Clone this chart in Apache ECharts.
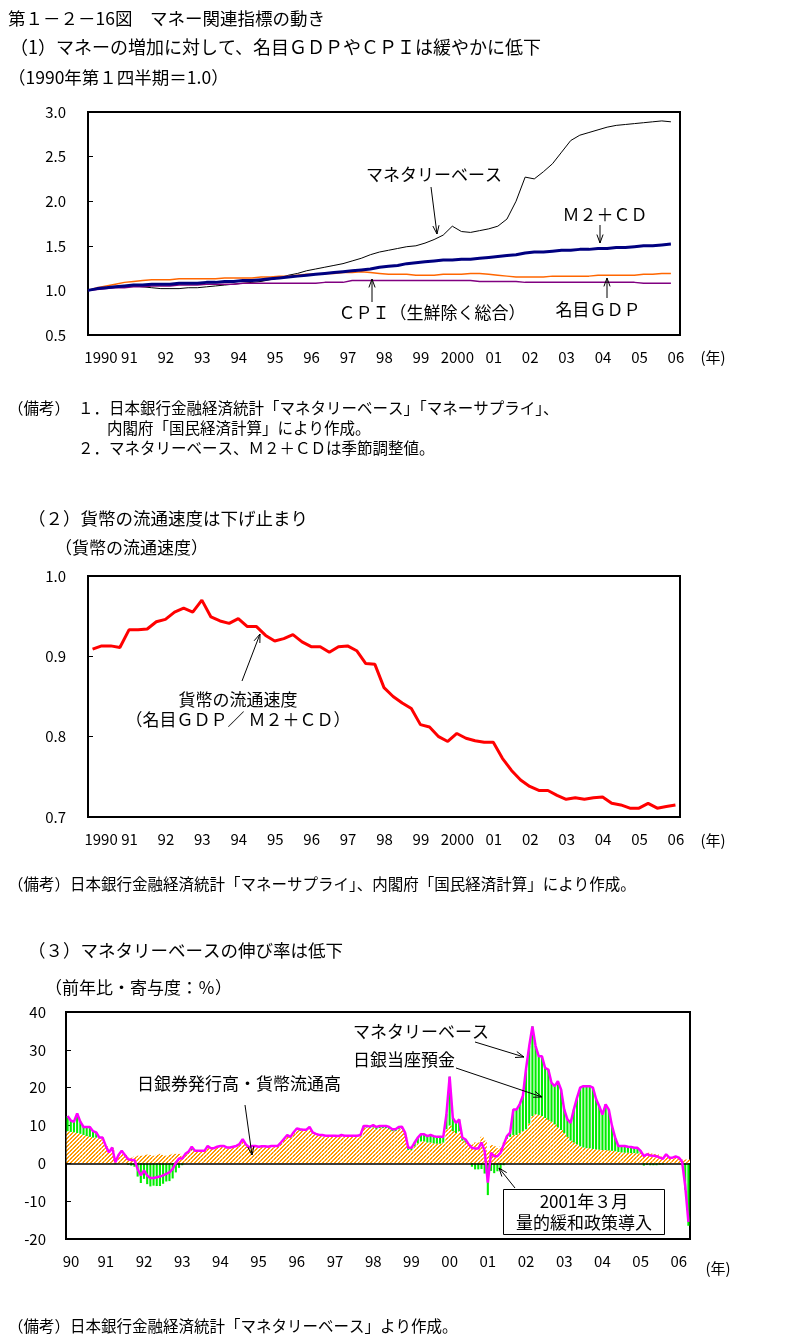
<!DOCTYPE html>
<html><head><meta charset="utf-8">
<script src="https://cdn.jsdelivr.net/npm/echarts/dist/echarts.min.js"></script>
<style>html,body{margin:0;padding:0;background:#fff}#c{width:794px;height:1340px}</style>
</head><body><div id="c"></div>
<script>
// ---------- tick labels ----------
const yearLabels12 = ['1990','91','92','93','94','95','96','97','98','99','2000','01','02','03','04','05','06'];
const yearLabels3 = ['90','91','92','93','94','95','96','97','98','99','00','01','02','03','04','05','06'];

// ---------- panel 1 (quarterly, 1990Q1 = 1.0) ----------
const monetaryBase = [1.00,1.02,1.03,1.04, 1.05,1.05,1.04,1.03, 1.02,1.02,1.02,1.03, 1.03,1.04,1.05,1.06,
  1.07,1.08,1.09,1.10, 1.12,1.14,1.17,1.19, 1.22,1.24,1.26,1.28, 1.30,1.33,1.36,1.40,
  1.43,1.45,1.47,1.49, 1.50,1.53,1.57,1.62, 1.72,1.66,1.65,1.67, 1.69,1.72,1.80,2.00,
  2.27,2.25,2.33,2.42, 2.55,2.68,2.74,2.77, 2.80,2.83,2.85,2.86, 2.87,2.88,2.89,2.90, 2.89];
const m2cd = [1.00,1.02,1.03,1.04, 1.05,1.06,1.06,1.07, 1.07,1.07,1.08,1.08, 1.08,1.09,1.09,1.10,
  1.10,1.11,1.11,1.12, 1.13,1.14,1.15,1.16, 1.17,1.18,1.19,1.20, 1.21,1.22,1.23,1.24,
  1.26,1.27,1.28,1.30, 1.31,1.32,1.33,1.34, 1.34,1.35,1.35,1.36, 1.37,1.38,1.39,1.40,
  1.42,1.43,1.43,1.44, 1.45,1.45,1.46,1.46, 1.47,1.47,1.48,1.48, 1.49,1.50,1.50,1.51, 1.52];
const nominalGDP = [1.00,1.03,1.05,1.07, 1.09,1.10,1.11,1.12, 1.12,1.12,1.13,1.13, 1.13,1.13,1.13,1.14,
  1.14,1.14,1.14,1.15, 1.15,1.16,1.16,1.17, 1.18,1.18,1.19,1.19, 1.20,1.20,1.21,1.20,
  1.19,1.18,1.18,1.18, 1.17,1.17,1.17,1.18, 1.18,1.18,1.19,1.19, 1.18,1.17,1.16,1.15,
  1.15,1.15,1.15,1.16, 1.16,1.16,1.16,1.16, 1.17,1.17,1.17,1.17, 1.17,1.18,1.18,1.19, 1.19];
const cpiCore = [1.00,1.01,1.02,1.03, 1.03,1.04,1.04,1.05, 1.05,1.05,1.06,1.06, 1.06,1.07,1.07,1.07,
  1.07,1.08,1.08,1.08, 1.08,1.08,1.08,1.08, 1.08,1.08,1.09,1.09, 1.09,1.11,1.11,1.11,
  1.11,1.11,1.11,1.11, 1.11,1.11,1.11,1.11, 1.11,1.11,1.11,1.10, 1.10,1.10,1.10,1.10,
  1.09,1.09,1.09,1.09, 1.09,1.09,1.09,1.09, 1.09,1.09,1.09,1.09, 1.09,1.08,1.08,1.08, 1.08];

// ---------- panel 2 (velocity, quarterly) ----------
const velocity = [0.909,0.913,0.913,0.911, 0.933,0.933,0.934,0.943, 0.946,0.955,0.960,0.955,
  0.970,0.949,0.944,0.941, 0.947,0.937,0.937,0.926, 0.919,0.922,0.927,0.918,
  0.912,0.912,0.905,0.912, 0.913,0.907,0.891,0.890, 0.861,0.850,0.842,0.835,
  0.815,0.812,0.800,0.794, 0.804,0.798,0.795,0.793, 0.793,0.773,0.758,0.746,
  0.738,0.733,0.733,0.727, 0.722,0.724,0.722,0.724, 0.725,0.717,0.715,0.711,
  0.711,0.717,0.711,0.713, 0.715];

// ---------- panel 3 (monthly, y/y %, Jan 1990 - Apr 2006) ----------
const mbGrowth = [
  12.5,11.3,11.0,13.2,11.0,9.6,9.6,9.6,8.5,8.2,6.8,6.8,
  4.6,2.9,4.2,0.3,2.2,3.3,2.2,1.1,0.9,0.9,-1.5,-3.2,
  -1.9,-3.2,-3.9,-3.9,-3.7,-3.5,-3.2,-2.8,-2.4,-1.5,0.1,1.3,
  1.3,2.5,3.1,4.4,3.3,3.3,3.3,3.3,4.6,4.0,4.0,4.4,
  4.6,4.6,4.2,4.2,4.4,4.6,5.1,6.4,5.0,4.2,4.6,4.6,
  4.4,4.5,4.5,4.4,4.6,4.6,4.6,5.5,6.5,7.5,7.0,8.2,
  9.2,9.0,8.9,8.9,9.6,8.2,7.8,7.5,7.5,7.3,7.3,7.3,
  7.3,7.2,7.5,7.3,7.3,7.3,7.3,7.3,7.5,9.9,9.9,9.7,
  10.1,9.6,9.9,9.9,9.9,9.6,9.0,9.0,9.6,9.7,8.1,4.1,
  4.1,5.5,6.8,7.7,7.7,7.2,7.5,7.2,7.0,7.0,7.0,13.0,
  22.9,12.0,10.7,11.6,6.8,6.3,5.0,4.1,3.9,3.9,5.5,3.3,
  -5.1,2.8,1.9,1.9,2.8,5.0,7.2,8.1,14.2,14.2,15.6,17.8,
  25.0,31.0,36.2,31.0,28.3,28.3,25.2,24.8,21.3,20.4,21.7,19.5,
  14.2,11.6,10.7,14.2,17.3,20.0,20.4,20.4,20.4,20.0,17.0,15.1,
  12.9,15.6,14.2,9.9,6.8,4.6,4.6,4.6,4.4,4.3,4.1,4.1,
  3.3,1.9,2.4,2.1,2.0,1.9,1.5,1.2,2.4,1.5,1.5,1.8,
  1.5,0.5,-6.0,-15.5];
const banknoteContrib = [
  8.5,8.3,8.2,8.0,7.8,7.5,7.2,7.0,6.8,6.8,6.6,6.5,
  4.5,3.0,4.0,0.5,2.0,2.8,2.2,1.5,1.5,1.8,2.0,2.0,
  2.2,2.3,2.2,2.0,2.3,2.5,2.2,2.0,2.3,2.5,2.5,2.5,
  1.8,2.3,2.8,3.5,3.2,3.2,3.3,3.3,4.0,3.8,3.9,4.2,
  4.4,4.4,4.0,4.0,4.2,4.5,4.8,5.8,4.8,4.0,4.4,4.4,
  4.2,4.3,4.3,4.2,4.4,4.4,4.4,5.2,6.2,7.0,6.8,7.8,
  8.8,8.6,8.6,8.6,9.2,8.0,7.6,7.3,7.2,7.1,7.1,7.1,
  7.1,7.0,7.3,7.1,7.1,7.1,7.1,7.1,7.2,9.4,9.5,9.3,
  9.5,9.0,9.3,9.3,9.3,9.0,8.5,8.5,9.0,9.2,7.5,3.5,
  3.5,4.5,5.3,5.8,5.8,5.5,5.5,5.3,5.2,5.2,5.5,9.0,
  10.0,8.5,8.0,8.5,6.0,5.5,5.0,5.0,5.5,5.5,7.0,6.0,
  3.3,4.8,4.5,4.0,4.5,5.5,6.5,7.0,7.5,7.5,8.0,8.5,
  9.0,10.5,12.5,13.0,12.8,12.5,12.0,11.5,11.0,10.3,9.5,8.8,
  8.0,7.0,6.0,5.5,5.0,4.5,4.2,4.0,4.0,3.8,3.7,3.6,
  3.5,3.5,3.4,3.3,3.2,3.0,2.9,2.8,2.8,2.7,2.7,2.6,
  2.8,2.5,2.8,2.6,2.5,2.4,1.8,1.5,2.0,1.6,1.5,1.5,
  1.2,1.0,1.0,1.0];
const currentAcctContrib = [
  4.0,3.0,2.8,5.2,3.2,2.1,2.4,2.6,1.7,1.4,0.2,0.3,
  0.1,-0.1,0.2,-0.2,0.2,0.5,0.0,-0.4,-0.6,-0.9,-3.5,-5.2,
  -4.1,-5.5,-6.1,-5.9,-6.0,-6.0,-5.4,-4.8,-4.7,-4.0,-2.4,-1.2,
  -0.5,0.2,0.3,0.9,0.1,0.1,0.0,0.0,0.6,0.2,0.1,0.2,
  0.2,0.2,0.2,0.2,0.2,0.1,0.3,0.6,0.2,0.2,0.2,0.2,
  0.2,0.2,0.2,0.2,0.2,0.2,0.2,0.3,0.3,0.5,0.2,0.4,
  0.4,0.4,0.3,0.3,0.4,0.2,0.2,0.2,0.3,0.2,0.2,0.2,
  0.2,0.2,0.2,0.2,0.2,0.2,0.2,0.2,0.3,0.5,0.4,0.4,
  0.6,0.6,0.6,0.6,0.6,0.6,0.5,0.5,0.6,0.5,0.6,0.6,
  0.6,1.0,1.5,1.9,1.9,1.7,2.0,1.9,1.8,1.8,1.5,4.0,
  12.9,3.5,2.7,3.1,0.8,0.8,0.0,-0.9,-1.6,-1.6,-1.5,-2.7,
  -8.4,-2.0,-2.6,-2.1,-1.7,-0.5,0.7,1.1,6.7,6.7,7.6,9.3,
  16.0,20.5,23.7,18.0,15.5,15.8,13.2,13.3,10.3,10.1,12.2,10.7,
  6.2,4.6,4.7,8.7,12.3,15.5,16.2,16.4,16.4,16.2,13.3,11.5,
  9.4,12.1,10.8,6.6,3.6,1.6,1.7,1.8,1.6,1.6,1.4,1.5,
  0.5,-0.6,-0.4,-0.5,-0.5,-0.5,-0.3,-0.3,0.4,-0.1,0.0,0.3,
  0.3,-0.5,-7.0,-16.5];

// ---------- categories ----------
const quarters = [];
yearLabels12.forEach((y, i) => { for (let q = 1; q <= 4; q++) quarters.push((1990 + i) + 'Q' + q); });
const q1 = quarters.slice(0, 66);   // 1990Q1 .. 2006Q2 (last slot empty)
const q2 = quarters.slice(0, 65);   // 1990Q1 .. 2006Q1
const months = [];
yearLabels3.forEach((y, i) => { for (let m = 1; m <= 12; m++) months.push((1990 + i) + '/' + m); });
const m3 = months.slice(0, mbGrowth.length);

// ---------- styles ----------
const FONT = '"Noto Sans CJK JP", "Noto Sans", sans-serif';
function hatch() {
  const c = document.createElement('canvas'); c.width = 4; c.height = 4;
  const g = c.getContext('2d'); g.fillStyle = '#ffffff'; g.fillRect(0, 0, 4, 4);
  g.fillStyle = '#FF9900';
  for (let x = 0; x < 4; x++) for (let y = 0; y < 4; y++) if ((x + y) % 4 === 0 || (x + y) % 4 === 1) g.fillRect(x, y, 1, 1);
  return c;
}
function txt(x, y, s, size, align) {
  return { type: 'text', x: x, y: y, silent: true, z: 100,
    style: { text: s, font: (size || 15) + 'px ' + FONT, fill: '#000', textAlign: align || 'left', textVerticalAlign: 'middle', align: align || 'left', verticalAlign: 'middle' } };
}
function arrow(x1, y1, x2, y2) {
  const a = Math.atan2(y2 - y1, x2 - x1), h = 9, s = 0.35;
  const p1 = [x2 - h * Math.cos(a - s), y2 - h * Math.sin(a - s)];
  const p2 = [x2 - h * Math.cos(a + s), y2 - h * Math.sin(a + s)];
  return [
    { type: 'polyline', silent: true, z: 100, shape: { points: [[x1, y1], [x2, y2]] }, style: { stroke: '#000', lineWidth: 1, fill: null } },
    { type: 'polyline', silent: true, z: 100, shape: { points: [p1, [x2, y2], p2] }, style: { stroke: '#000', lineWidth: 1, fill: null } }
  ];
}

const gridBase = { show: true, borderColor: '#000', borderWidth: 2, backgroundColor: 'transparent', containLabel: false, outerBoundsMode: 'none' };
const lblStyle = { color: '#000', fontSize: 15, fontFamily: FONT };
function yAx(gi, min, max, itv, fmt, margin) {
  return { gridIndex: gi, type: 'value', min: min, max: max, interval: itv,
    axisLine: { show: false }, splitLine: { show: false },
    axisTick: { show: true, inside: true, length: 5, lineStyle: { color: '#000', width: 1 } },
    axisLabel: Object.assign({}, lblStyle, { formatter: fmt, margin: margin, showMinLabel: true, showMaxLabel: true, hideOverlap: false }) };
}
// every category gets a label slot (interval 0); only the first category of each year is filled.
// firstPad / restPad: extra left padding (px) to nudge the year labels like the original
function xAx(gi, data, gap, step, labels, firstPad, restPad) {
  return { gridIndex: gi, type: 'category', data: data, boundaryGap: gap,
    axisLine: { show: false }, axisTick: { show: false }, splitLine: { show: false },
    axisLabel: Object.assign({}, lblStyle, { margin: 15, hideOverlap: false, interval: 0,
      formatter: (v, i) => {
        if (i % step !== 0) return '';
        const k = i / step; const s = labels[k];
        if (s === undefined) return '';
        return (k === 0 ? '{f|' : '{n|') + s + '}';
      },
      rich: { f: Object.assign({ padding: [0, 0, 0, firstPad] }, lblStyle), n: Object.assign({ padding: [0, 0, 0, restPad] }, lblStyle) } }) };
}

const graphics = [
  txt(8, 18, '第１－２－16図　マネー関連指標の動き', 17.5),
  txt(10, 47, '（1）マネーの増加に対して、名目ＧＤＰやＣＰＩは緩やかに低下', 18),
  txt(8, 77, '（1990年第１四半期＝1.0）', 17.5),
  txt(713, 357, '(年)', 15, 'center'),
  txt(434, 175, 'マネタリーベース', 17, 'center'),
  txt(605, 215, 'Ｍ２＋ＣＤ', 17, 'center'),
  txt(432, 313, 'ＣＰＩ（生鮮除く総合）', 17, 'center'),
  txt(598, 310, '名目ＧＤＰ', 17, 'center'),
  ...arrow(431, 187, 437, 234),
  ...arrow(600, 225, 600, 243),
  ...arrow(372, 302, 372, 279),
  ...arrow(607, 298, 607, 278),
  txt(8, 408, '（備考）', 15.5),
  txt(78, 408, '１．日本銀行金融経済統計「マネタリーベース」「マネーサプライ」、', 15.5),
  txt(107, 428, '内閣府「国民経済計算」により作成。', 15.5),
  txt(78, 448, '２．マネタリーベース、Ｍ２＋ＣＤは季節調整値。', 15.5),

  txt(28, 518, '（２）貨幣の流通速度は下げ止まり', 17.5),
  txt(55, 548, '（貨幣の流通速度）', 17),
  txt(713, 840, '(年)', 15, 'center'),
  txt(238, 700, '貨幣の流通速度', 17, 'center'),
  txt(238, 720, '（名目ＧＤＰ／ Ｍ２＋ＣＤ）', 17, 'center'),
  ...arrow(242, 681, 260, 634),
  txt(8, 884, '（備考）日本銀行金融経済統計「マネーサプライ」、内閣府「国民経済計算」により作成。', 15.5),

  txt(28, 950, '（３）マネタリーベースの伸び率は低下', 17.5),
  txt(45, 988, '（前年比・寄与度：％）', 17),
  txt(718, 1268, '(年)', 15, 'center'),
  txt(421, 1032, 'マネタリーベース', 17, 'center'),
  ...arrow(475, 1042, 524, 1057),
  txt(404, 1060, '日銀当座預金', 17, 'center'),
  ...arrow(456, 1068, 542, 1097),
  txt(239, 1084, '日銀券発行高・貨幣流通高', 17, 'center'),
  ...arrow(245, 1105, 252, 1155),
  { type: 'rect', z: 99, silent: true, shape: { x: 503.5, y: 1189.5, width: 161, height: 45 }, style: { fill: '#fff', stroke: '#000', lineWidth: 1 } },
  txt(584, 1202, '2001年３月', 17, 'center'),
  txt(584, 1223, '量的緩和政策導入', 17, 'center'),
  ...arrow(515, 1188, 499, 1168),
  txt(8, 1326, '（備考）日本銀行金融経済統計「マネタリーベース」より作成。', 15.5)
];

const chart = echarts.init(document.getElementById('c'), null, { renderer: 'canvas' });
chart.setOption({
  animation: false,
  backgroundColor: '#fff',
  textStyle: { fontFamily: FONT },
  grid: [
    Object.assign({ left: 88, top: 112, width: 592, height: 223 }, gridBase),
    Object.assign({ left: 88, top: 576, width: 592, height: 241 }, gridBase),
    Object.assign({ left: 66, top: 1012, width: 624, height: 227 }, gridBase)
  ],
  xAxis: [
    xAx(0, q1, false, 4, yearLabels12, 26, 10),
    xAx(1, q2, true, 4, yearLabels12, 17, 1),
    xAx(2, m3, true, 12, yearLabels3, 7, 0)
  ],
  yAxis: [
    yAx(0, 0.5, 3.0, 0.5, v => v.toFixed(1), 22),
    yAx(1, 0.7, 1.0, 0.1, v => v.toFixed(1), 22),
    yAx(2, -20, 40, 10, v => String(v), 20)
  ],
  series: [
    { name: 'マネタリーベース', type: 'line', xAxisIndex: 0, yAxisIndex: 0, data: monetaryBase, symbol: 'none', lineStyle: { color: '#000', width: 1 }, z: 2 },
    { name: '名目ＧＤＰ', type: 'line', xAxisIndex: 0, yAxisIndex: 0, data: nominalGDP, symbol: 'none', lineStyle: { color: '#FF6600', width: 1.5 }, z: 3 },
    { name: 'ＣＰＩ', type: 'line', xAxisIndex: 0, yAxisIndex: 0, data: cpiCore, symbol: 'none', lineStyle: { color: '#800080', width: 1.5 }, z: 3 },
    { name: 'Ｍ２＋ＣＤ', type: 'line', xAxisIndex: 0, yAxisIndex: 0, data: m2cd, symbol: 'none', lineStyle: { color: '#000080', width: 3 }, z: 4 },
    { name: '貨幣の流通速度', type: 'line', xAxisIndex: 1, yAxisIndex: 1, data: velocity, symbol: 'none', lineStyle: { color: '#FF0000', width: 3 } },
    // banknotes & coins contribution: full-width hatched bars
    { name: '日銀券発行高・貨幣流通高', type: 'bar', xAxisIndex: 2, yAxisIndex: 2, data: banknoteContrib,
      barWidth: '100%', barGap: '-100%', itemStyle: { color: { image: hatch(), repeat: 'repeat' } }, z: 2 },
    // invisible base so the current-account bars stack on top of the banknote contribution
    { name: 'base', type: 'bar', xAxisIndex: 2, yAxisIndex: 2, stack: 'ca', data: banknoteContrib,
      barWidth: '66%', barGap: '-100%', itemStyle: { color: 'rgba(0,0,0,0)' }, z: 1 },
    { name: '日銀当座預金', type: 'bar', xAxisIndex: 2, yAxisIndex: 2, stack: 'ca', data: currentAcctContrib,
      barWidth: '66%', barGap: '-100%', itemStyle: { color: '#00EE00' }, z: 3 },
    { name: 'マネタリーベース伸び率', type: 'line', xAxisIndex: 2, yAxisIndex: 2, data: mbGrowth, symbol: 'none', z: 5,
      lineStyle: { color: '#FF00FF', width: 2.5 },
      markLine: { silent: true, symbol: 'none', label: { show: false }, lineStyle: { color: '#000', width: 1.5, type: 'solid' }, data: [{ yAxis: 0 }] } }
  ],
  graphic: graphics
});
</script></body></html>
